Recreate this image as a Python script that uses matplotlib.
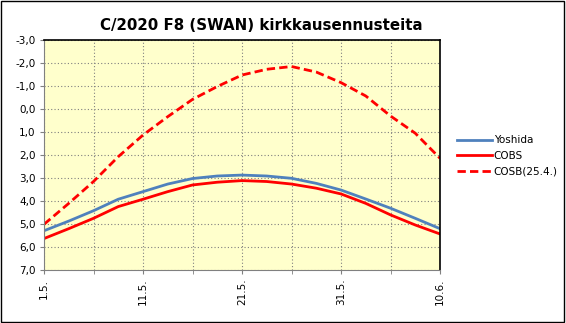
import numpy as np
import matplotlib
matplotlib.use("Agg")
import matplotlib.pyplot as plt
from matplotlib.patches import Rectangle

# days since 1.5.
days = [0, 2.5, 5, 7.5, 10, 12.5, 15, 17.5, 20, 22.5, 25, 27.5, 30, 32.5, 35, 37.5, 40]
yoshida = [5.28, 4.86, 4.41, 3.91, 3.58, 3.25, 3.01, 2.90, 2.86, 2.90, 3.00, 3.22, 3.51, 3.90, 4.30, 4.74, 5.19]
cobs = [5.62, 5.19, 4.74, 4.23, 3.91, 3.58, 3.29, 3.17, 3.10, 3.14, 3.25, 3.43, 3.68, 4.09, 4.59, 5.03, 5.42]
cobs_254 = [5.00, 4.09, 3.14, 2.06, 1.12, 0.32, -0.43, -0.99, -1.49, -1.74, -1.86, -1.62, -1.16, -0.58, 0.29, 1.04, 2.13]

tick_days = [0, 10, 20, 30, 40]
tick_labels = ["1.5.", "11.5.", "21.5.", "31.5.", "10.6."]
y_ticks = np.arange(-3, 8, 1)

fig = plt.figure(figsize=(5.66, 3.23), dpi=100)
fig.patches.append(Rectangle((0.002, 0.003), 0.995, 0.994, transform=fig.transFigure,
                             fill=False, edgecolor="black", linewidth=1.0))
ax = fig.add_axes([44 / 566, 1 - 270.3 / 323, 396 / 566, 230 / 323])
ax.set_facecolor("#FFFFCC")

ax.plot(days, yoshida, color="#4F81BD", linewidth=2.0, label="Yoshida")
ax.plot(days, cobs, color="#FF0000", linewidth=2.0, label="COBS")
ax.plot(days, cobs_254, color="#FF0000", linewidth=2.0, linestyle=(0, (3, 1.5)), label="COSB(25.4.)")

ax.set_xlim(0, 40)
ax.set_ylim(7, -3)
ax.set_yticks(y_ticks)
ax.set_yticklabels([f"{v:.1f}".replace(".", ",") for v in y_ticks], fontsize=7.5)
ax.set_xticks(tick_days)
ax.set_xticklabels(tick_labels, rotation=90, fontsize=7.5)
ax.set_xticks(np.arange(0, 41, 5), minor=True)
ax.tick_params(axis="both", which="both", direction="out", length=3, color="#808080", pad=3)
ax.grid(True, which="both", axis="x", linestyle=(0, (1, 2)), color="#808080", linewidth=0.8)
ax.grid(True, which="major", axis="y", linestyle=(0, (1, 2)), color="#808080", linewidth=0.8)
ax.set_axisbelow(True)

for side in ["left", "bottom"]:
    ax.spines[side].set_color("#808080")
for side in ["top", "right"]:
    ax.spines[side].set_color("black")
    ax.spines[side].set_linewidth(1.2)

fig.text(261 / 566, 1 - 25 / 323, "C/2020 F8 (SWAN) kirkkausennusteita",
         ha="center", va="center", fontsize=10.8, fontweight="bold")

ax.legend(loc="upper left", bbox_to_anchor=(453 / 566, 1 - 131 / 323), bbox_transform=fig.transFigure,
          frameon=False, fontsize=7.5, handlelength=3.3, handletextpad=0.2, labelspacing=0.55,
          borderaxespad=0)

fig.savefig("out.png", dpi=100)
